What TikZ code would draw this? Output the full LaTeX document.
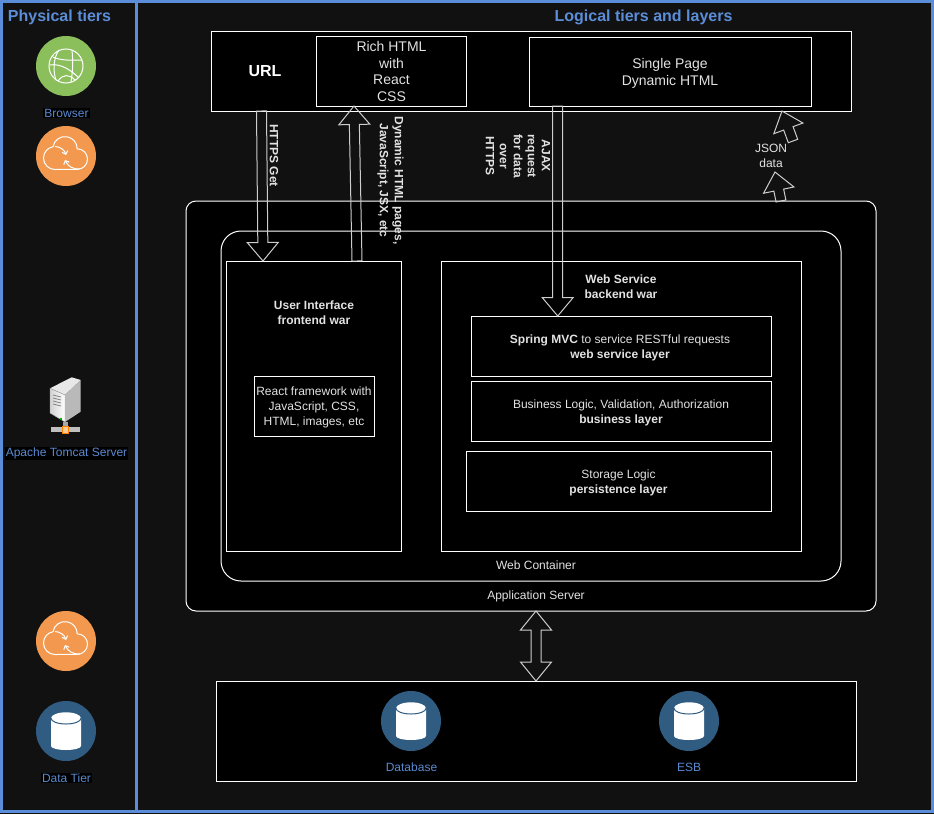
\documentclass[tikz,border=0pt]{standalone}
\usepackage[RGB]{xcolor}
\usepackage{fontspec}
\setmainfont{Liberation Sans}
\usetikzlibrary{calc,arrows.meta}
\definecolor{panelbg}{RGB}{17,17,17}
\definecolor{tierblue}{RGB}{91,141,216}
\definecolor{labelblue}{RGB}{91,138,208}
\definecolor{boxtext}{RGB}{226,226,226}
\definecolor{arrowgrey}{RGB}{205,205,205}
\definecolor{browsergreen}{RGB}{139,191,91}
\definecolor{cloudorange}{RGB}{242,153,79}
\definecolor{dbblue}{RGB}{48,92,130}
\tikzset{
  tierbox/.style={draw=white,fill=black,line width=1pt,inner sep=0pt,outer sep=0pt},
  panelbox/.style={draw=tierblue,fill=panelbg,line width=3pt,inner sep=0pt,outer sep=0pt},
  blockline/.style={draw=arrowgrey,line width=1pt,line join=miter},
  smalltext/.style={font=\fontsize{12}{15}\selectfont,text=boxtext,align=center,inner sep=0pt},
  smallbold/.style={smalltext,font=\fontsize{12}{15}\selectfont\bfseries},
  bigtext/.style={font=\fontsize{14}{16.8}\selectfont,text=boxtext,align=center,inner sep=0pt},
  headtext/.style={font=\fontsize{16}{19}\selectfont\bfseries,text=tierblue,inner sep=0pt},
  tierlabel/.style={font=\fontsize{12}{14}\selectfont,text=labelblue,fill=black,inner sep=1pt},
}
\newcommand{\blockarrow}[2]{
  \coordinate (ba) at (#1);
  \coordinate (bb) at (#2);
  \coordinate (bc) at ($(bb)!18.5pt!(ba)$);
  \draw[blockline] ($(ba)!5pt!90:(bb)$)--($(bc)!5pt!90:(bb)$)--($(bc)!15.5pt!90:(bb)$)--(bb)
    --($(bc)!15.5pt!-90:(bb)$)--($(bc)!5pt!-90:(bb)$)--($(ba)!5pt!-90:(bb)$)--cycle;
}
\newcommand{\doublearrow}[2]{
  \coordinate (ba) at (#1);
  \coordinate (bb) at (#2);
  \coordinate (bc) at ($(bb)!19pt!(ba)$);
  \coordinate (bd) at ($(ba)!19pt!(bb)$);
  \draw[blockline] (ba)--($(bd)!15.5pt!-90:(bb)$)--($(bd)!5pt!-90:(bb)$)--($(bc)!5pt!-90:(bb)$)--($(bc)!15.5pt!-90:(bb)$)
    --(bb)--($(bc)!15.5pt!90:(bb)$)--($(bc)!5pt!90:(bb)$)--($(bd)!5pt!90:(bb)$)--($(bd)!15.5pt!90:(bb)$)--cycle;
}
\newcommand{\globeicon}[3]{
  \node[circle,fill=browsergreen,minimum size=60pt,inner sep=0pt] (#1) at (#2,#3) {};
  \begin{scope}[shift={(#2,#3)},y=1pt,draw=white,line width=1pt]
    \draw (0,0) circle (17pt);
    \draw (-16,1) .. controls (-5,3) and (6,-5) .. (13,-12);
    \draw (-7,16) .. controls (-13,8) and (-13,-6) .. (-10,-14);
    \draw (6,16) .. controls (7,5) and (7,-4) .. (5,-16);
    \draw (-13,9) .. controls (-5,5) and (6,6) .. (16,6);
    \draw (-8,-15) .. controls (-3,-8) and (3,-8) .. (9,-14);
  \end{scope}
}
\newcommand{\cloudicon}[3]{
  \node[circle,fill=cloudorange,minimum size=60pt,inner sep=0pt] (#1) at (#2,#3) {};
  \begin{scope}[shift={(#2,#3)},y=1pt,draw=white,line width=1pt]
    \draw (-11,-13.5) arc[start angle=270,end angle=100,radius=11.5pt]
      arc[start angle=170,end angle=0,radius=12.2pt]
      arc[start angle=90,end angle=-90,radius=10.3pt]--cycle;
    \draw[-{Straight Barb[length=3pt,width=6pt]}] (-11,9.5) to[bend left=35] (0,1);
    \draw[-{Straight Barb[length=3pt,width=6pt]}] (14,-13) to[bend left=35] (-1,-4);
  \end{scope}
}
\newcommand{\dbicon}[3]{
  \node[circle,fill=dbblue,minimum size=60pt,inner sep=0pt] (#1) at (#2,#3) {};
  \begin{scope}[shift={(#2,#3)},y=1pt]
    \fill[white] (-15,12.7)--(-15,-15) arc[start angle=180,end angle=360,x radius=15pt,y radius=4pt]
      --(15,12.7) arc[start angle=0,end angle=180,x radius=15pt,y radius=6pt]--cycle;
    \draw[dbblue,line width=1pt] (-15,12.7) arc[start angle=180,end angle=360,x radius=15pt,y radius=5.7pt];
  \end{scope}
}
\newcommand{\servericon}[1]{
  \begin{scope}[shift={#1}]
    \fill[white!82!gray] (50,18.3)--(71.7,7.3)--(80.7,10)--(65,25)--cycle;
    \filldraw[draw=gray!70,left color=gray!35!white,right color=white] (50,18.3)--(65,25)--(65,52)--(50,43)--cycle;
    \fill[gray!55!white] (65,25)--(80.7,10)--(80.7,41.7)--(65,52)--cycle;
    \foreach \y in {25,28,31,34}{
      \draw[gray,line width=.8pt] (53,\y)--(61,\y+2);
    }
    \fill[green!70!black] (60,48) rectangle (62,50);
    \fill[gray!70] (63,52) rectangle (68,57);
    \fill[gray!50!white] (51,57) rectangle (80,62);
    \filldraw[draw=orange,fill=orange!40,line width=1pt] (62.5,56) rectangle (68.5,63);
  \end{scope}
}

\begin{document}
\begin{tikzpicture}[x=1pt,y=-1pt]
\useasboundingbox (0,0) rectangle (934,814);
\fill[panelbg] (0,0) rectangle (934,814);
\node[panelbox,minimum width=135pt,minimum height=810pt] (physical) at (68.5,406) {};
\node[panelbox,minimum width=796pt,minimum height=810pt] (logical) at (534.5,406) {};
\node[headtext] (physhead) at (59.5,17) {Physical tiers};
\node[headtext] (loghead) at (643.5,17) {Logical tiers and layers};
% physical tier icons
\globeicon{browser}{66}{66}
\node[tierlabel] (browserlabel) at (66.5,113) {Browser};
\cloudicon{cloudtop}{66}{156}
\servericon{(0,370)}
\node[tierlabel] (tomcatlabel) at (66.5,453.5) {Apache Tomcat Server};
\cloudicon{cloudlow}{66}{641}
\dbicon{datatier}{66}{731}
\node[tierlabel] (datalabel) at (66.5,778) {Data Tier};
% browser side
\node[tierbox,minimum width=640pt,minimum height=80pt] (urlbox) at (531,71) {};
\node[font=\fontsize{16}{19}\selectfont\bfseries,text=white,inner sep=0pt] (urltext) at (265,71) {URL};
\node[tierbox,minimum width=150pt,minimum height=70pt] (rich) at (391.5,71) {};
\node[bigtext] (richtext) at (391.5,71.5) {Rich HTML\\with\\React\\CSS};
\node[tierbox,minimum width=282pt,minimum height=69pt] (singlepage) at (670,71.5) {};
\node[bigtext] (singletext) at (670,73.5) {Single Page\\Dynamic HTML};
% server side
\node[tierbox,rounded corners=10pt,minimum width=690pt,minimum height=410pt] (appserver) at (531,406) {};
\node[tierbox,rounded corners=20pt,minimum width=620pt,minimum height=350pt] (container) at (531,406) {};
\node[smalltext] (containerlabel) at (536,565.5) {Web Container};
\node[smalltext] (serverlabel) at (536,596.5) {Application Server};
\node[tierbox,minimum width=175pt,minimum height=290pt] (frontend) at (313.5,406) {};
\node[smallbold] (frontendlabel) at (314,313) {User Interface\\frontend war};
\node[tierbox,minimum width=120pt,minimum height=60pt] (react) at (314,406) {};
\node[smalltext] (reacttext) at (314,407) {React framework with\\JavaScript, CSS,\\HTML, images, etc};
\node[tierbox,minimum width=360pt,minimum height=290pt] (backend) at (621,406) {};
\node[smallbold] (backendlabel) at (621,286.5) {Web Service\\backend war};
\node[tierbox,minimum width=300pt,minimum height=60pt] (mvc) at (621,346) {};
\node[smalltext] (mvctext) at (620,347.5) {\textbf{Spring MVC} to service RESTful requests\\\textbf{web service layer}};
\node[tierbox,minimum width=300pt,minimum height=60pt] (business) at (621,411) {};
\node[smalltext] (businesstext) at (621,412.5) {Business Logic, Validation, Authorization\\\textbf{business layer}};
\node[tierbox,minimum width=305pt,minimum height=60pt] (storage) at (618.5,481) {};
\node[smalltext] (storagetext) at (618.5,482.5) {Storage Logic\\\textbf{persistence layer}};
% data side
\node[tierbox,minimum width=640pt,minimum height=100pt] (databox) at (536,731) {};
\dbicon{database}{411}{721}
\dbicon{esb}{689}{721}
\node[tierlabel] (databaselabel) at (411.5,767.5) {Database};
\node[tierlabel] (esblabel) at (689,767.5) {ESB};
% connectors
\blockarrow{[xshift=-269.5pt]urlbox.south}{[xshift=-50.5pt]frontend.north}
\blockarrow{[xshift=43.5pt]frontend.north}{[xshift=-37.5pt]rich.south}
\blockarrow{[xshift=-112.3pt]singlepage.south}{[xshift=-63.3pt]mvc.north}
\coordinate (jsonlow) at ([xshift=250pt]appserver.north);
\coordinate (jsonhigh) at (793,141);
\coordinate (jsonmid) at (775,172);
\blockarrow{jsonlow}{jsonmid}
\blockarrow{jsonhigh}{[xshift=251pt]urlbox.south}
\doublearrow{[xshift=5pt]appserver.south}{databox.north}
\node[smallbold,rotate=-90] (getlabel) at (274,155.5) {HTTPS Get};
\node[smallbold,rotate=-90] (pageslabel) at (390.5,180.5) {Dynamic HTML pages,\\JavaScript, JSX, etc};
\node[smallbold,font=\fontsize{12}{14}\selectfont\bfseries,rotate=-90] (ajaxlabel) at (518,156) {AJAX\\request\\for data\\over\\HTTPS};
\node[smalltext] (jsonlabel) at (771,156) {JSON\\data};
\end{tikzpicture}
\end{document}
